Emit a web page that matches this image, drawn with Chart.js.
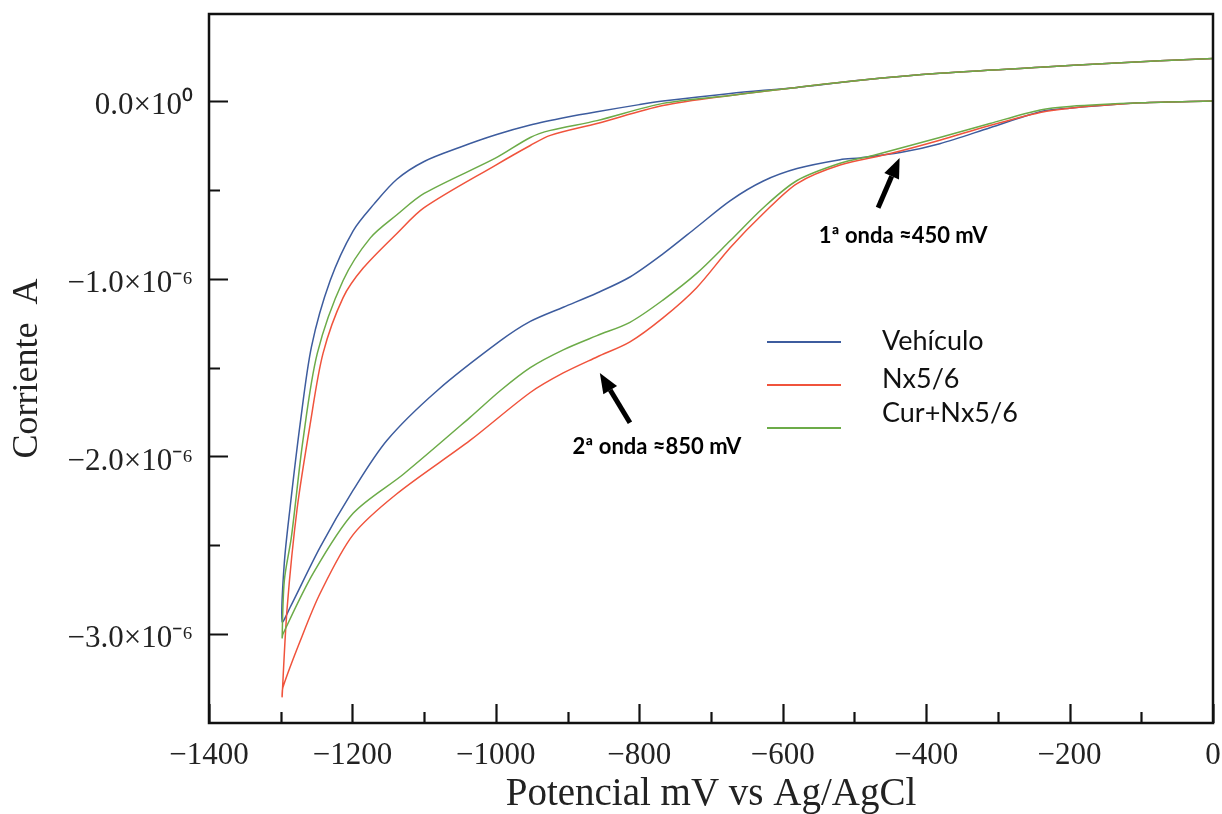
<!DOCTYPE html>
<html>
<head>
<meta charset="utf-8">
<script src="https://cdn.jsdelivr.net/npm/chart.js@4.4.1/dist/chart.umd.min.js"></script>
<style>
  html, body { margin: 0; padding: 0; background: #fff; }
  canvas { display: block; }
</style>
</head>
<body>
<canvas id="myChart" width="1222" height="814"></canvas>
<script>
// potential in mV vs Ag/AgCl, current in µA (×10^-6 A)
// each loop: cathodic branch 0 -> -1300, then return branch -1300 -> 0
var vehiculoE = [0, -100, -200, -241, -311, -381, -436, -492, -520, -580, -627, -673, -720, -767, -813, -859, -906, -952, -994, -1082, -1152, -1199, -1245, -1287, -1298,
  -1295, -1287, -1273, -1257, -1231, -1199, -1170, -1138, -1100, -1050, -1000, -952, -900, -859, -800, -767, -673, -580, -492, -381, -241, -148, 0];
var vehiculoI = [0, -0.01, -0.04, -0.06, -0.15, -0.24, -0.29, -0.32, -0.33, -0.38, -0.45, -0.56, -0.71, -0.86, -0.99, -1.08, -1.16, -1.24, -1.35, -1.63, -1.91, -2.19, -2.51, -2.85, -2.93,
  -2.6, -2.29, -1.82, -1.38, -1.01, -0.73, -0.58, -0.44, -0.34, -0.26, -0.19, -0.135, -0.09, -0.06, -0.02, 0.0, 0.043, 0.077, 0.117, 0.156, 0.19, 0.212, 0.24];

var nxE = [0, -100, -200, -241, -311, -381, -450, -520, -580, -627, -673, -720, -767, -813, -859, -906, -952, -1036, -1138, -1199, -1245, -1273, -1297, -1298,
  -1291, -1277, -1259, -1241, -1213, -1185, -1138, -1100, -1000, -952, -924, -859, -767, -673, -580, -492, -381, -241, -148, 0];
var nxI = [0, -0.01, -0.04, -0.064, -0.137, -0.22, -0.295, -0.36, -0.464, -0.633, -0.824, -1.05, -1.22, -1.355, -1.44, -1.53, -1.64, -1.91, -2.21, -2.44, -2.77, -3.04, -3.30, -3.35,
  -2.85, -2.29, -1.82, -1.42, -1.106, -0.94, -0.745, -0.60, -0.36, -0.25, -0.193, -0.126, -0.025, 0.032, 0.077, 0.117, 0.156, 0.19, 0.212, 0.24];

var curE = [0, -100, -200, -241, -311, -381, -474, -520, -580, -627, -673, -720, -767, -813, -859, -906, -952, -994, -1036, -1129, -1199, -1255, -1297, -1298,
  -1295, -1285, -1269, -1249, -1213, -1175, -1138, -1100, -1000, -952, -924, -859, -767, -673, -580, -492, -381, -241, -148, 0];
var curI = [0, -0.01, -0.03, -0.05, -0.126, -0.205, -0.306, -0.35, -0.447, -0.60, -0.785, -0.97, -1.12, -1.245, -1.32, -1.40, -1.50, -1.63, -1.78, -2.10, -2.32, -2.66, -3.00, -3.02,
  -2.7, -2.45, -1.91, -1.42, -1.01, -0.77, -0.64, -0.52, -0.32, -0.205, -0.165, -0.11, -0.013, 0.032, 0.077, 0.117, 0.156, 0.19, 0.212, 0.24];

var seriesNames = ['Vehículo', 'Nx5/6', 'Cur+Nx5/6'];
var seriesColors = ['#3d5c9e', '#f0533c', '#6cab48'];

// arrows: tip and tail in (mV, µA), text offset in px from tail
var notes = [
  { text: '1ª onda ≈450 mV', tip: [-437, -0.32], tail: [-467, -0.60], dx: 25, dy: 35 },
  { text: '2ª onda ≈850 mV', tip: [-855, -1.53], tail: [-813, -1.81], dx: 27, dy: 31 }
];

function pts(xs, ys) {
  var out = [];
  for (var i = 0; i < xs.length; i++) out.push({ x: xs[i], y: ys[i] });
  return out;
}

var serif = 'Liberation Serif, Times New Roman, serif';

var framePlugin = {
  id: 'frame',
  afterDraw: function(chart) {
    var c = chart.ctx, a = chart.chartArea;
    var xs = chart.scales.x, ys = chart.scales.y;
    c.save();
    c.strokeStyle = '#111';
    c.lineWidth = 2.5;
    c.strokeRect(a.left, a.top, a.right - a.left, a.bottom - a.top);

    c.lineWidth = 2.2;
    c.beginPath();
    for (var v = -1400; v <= 0; v += 100) {
      var px = Math.round(xs.getPixelForValue(v)) + 0.5;
      var len = (v % 200 === 0) ? 19 : 11;
      c.moveTo(px, a.bottom);
      c.lineTo(px, a.bottom - len);
    }
    for (var w = -3.5; w <= 0.5; w += 0.5) {
      var py = ys.getPixelForValue(w);
      if (py < a.top + 2 || py > a.bottom - 2) continue;
      var l2 = Number.isInteger(w) ? 19 : 11;
      c.moveTo(a.left, Math.round(py) + 0.5);
      c.lineTo(a.left + l2, Math.round(py) + 0.5);
    }
    c.stroke();

    // legend
    var lx = 767, ly = 342;
    c.font = '27px Lato, sans-serif';
    c.textBaseline = 'alphabetic';
    c.textAlign = 'left';
    var baselines = [350, 388, 422];
    for (var i = 0; i < seriesNames.length; i++) {
      var yy = ly + i * 43;
      c.strokeStyle = seriesColors[i];
      c.lineWidth = 1.8;
      c.beginPath();
      c.moveTo(lx, yy);
      c.lineTo(lx + 74, yy);
      c.stroke();
      c.fillStyle = '#111';
      c.fillText(seriesNames[i], 882, baselines[i]);
    }

    // annotations
    c.font = 'bold 22px Lato, sans-serif';
    c.textAlign = 'center';
    notes.forEach(function(n) {
      var tx = xs.getPixelForValue(n.tip[0]), ty = ys.getPixelForValue(n.tip[1]);
      var sx = xs.getPixelForValue(n.tail[0]), sy = ys.getPixelForValue(n.tail[1]);
      var ang = Math.atan2(ty - sy, tx - sx);
      var hl = 20, hw = 8;
      var bx = tx - hl * Math.cos(ang), by = ty - hl * Math.sin(ang);
      c.strokeStyle = '#000';
      c.lineWidth = 5;
      c.beginPath();
      c.moveTo(sx, sy);
      c.lineTo(bx, by);
      c.stroke();
      c.fillStyle = '#000';
      c.beginPath();
      c.moveTo(tx, ty);
      c.lineTo(bx + hw * Math.sin(ang), by - hw * Math.cos(ang));
      c.lineTo(bx - hw * Math.sin(ang), by + hw * Math.cos(ang));
      c.closePath();
      c.fill();
      c.fillText(n.text, sx + n.dx, sy + n.dy);
    });
    c.restore();
  }
};

var chartdata = {
  datasets: [
    { label: seriesNames[0], data: pts(vehiculoE, vehiculoI), borderColor: seriesColors[0], order: 2 },
    { label: seriesNames[1], data: pts(nxE, nxI), borderColor: seriesColors[1], order: 1 },
    { label: seriesNames[2], data: pts(curE, curI), borderColor: seriesColors[2], order: 0 }
  ]
};

var ctx = document.getElementById('myChart');
var cvChart = new Chart(ctx, {
  type: 'scatter',
  data: chartdata,
  options: {
    responsive: false,
    animation: false,
    devicePixelRatio: 1,
    showLine: true,
    layout: { padding: { top: 14, right: 9, left: 0, bottom: 0 } },
    plugins: { legend: { display: false }, tooltip: { enabled: false } },
    elements: {
      point: { radius: 0 },
      line: { borderWidth: 1.5, tension: 0.3, fill: false }
    },
    scales: {
      x: {
        type: 'linear', position: 'bottom', min: -1400, max: 0,
        afterFit: function(s) { s.height = 91; s.paddingLeft = 0; s.paddingRight = 0; },
        grid: { display: false, drawTicks: false },
        border: { display: false },
        ticks: {
          stepSize: 100, autoSkip: false, maxRotation: 0, padding: 14, color: '#222',
          font: { family: serif, size: 31 },
          callback: function(v) {
            if (v % 200 !== 0) return '';
            return v < 0 ? '\u2212' + Math.abs(v) : '0';
          }
        },
        title: {
          display: true, text: 'Potencial mV vs Ag/AgCl', color: '#222', padding: 0,
          font: { family: serif, size: 39, lineHeight: 1 }
        }
      },
      y: {
        type: 'linear', min: -3.5, max: 0.49,
        afterFit: function(s) { s.width = 209; s.paddingTop = 0; s.paddingBottom = 0; },
        grid: { display: false, drawTicks: false },
        border: { display: false },
        ticks: {
          stepSize: 0.5, includeBounds: false, padding: 16, color: '#222', labelOffset: 5,
          font: { family: serif, size: 31 },
          callback: function(v) {
            if (!Number.isInteger(v)) return '';
            if (v === 0) return '0.0\u00d710\u2070';
            return '\u2212' + Math.abs(v).toFixed(1) + '\u00d710\u207b\u2076';
          }
        },
        title: {
          display: true, text: 'Corriente  A', color: '#222', padding: { top: 10, bottom: 0 },
          font: { family: serif, size: 36, lineHeight: 1 }
        }
      }
    }
  },
  plugins: [framePlugin]
});
</script>
</body>
</html>
